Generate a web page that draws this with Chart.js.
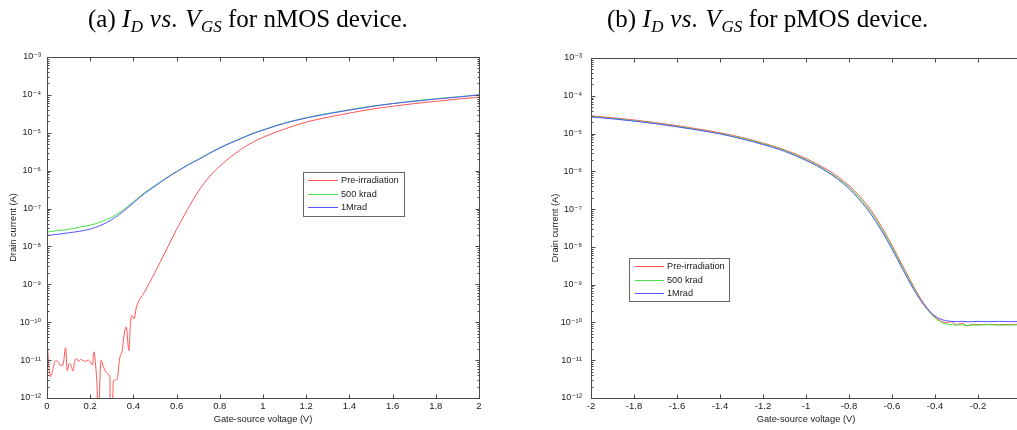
<!DOCTYPE html>
<html>
<head>
<meta charset="utf-8">
<script src="https://cdn.jsdelivr.net/npm/chart.js@4.4.1/dist/chart.umd.min.js"></script>
<style>
  html, body { margin: 0; padding: 0; background: #fff; }
  body { position: relative; width: 1017px; height: 430px; overflow: hidden; }
  .ttl { position: absolute; top: 6px; font-family: 'Liberation Serif', 'Times New Roman', serif;
         font-size: 25px; line-height: 25px; white-space: nowrap; color: #000; z-index: 2; }
  .ttl i { letter-spacing: 0.5px; }
  .ttl sub { font-size: 0.68em; vertical-align: -0.3em; letter-spacing: 0; }
  .pane { position: absolute; top: 0; }
  canvas { display: block; }
</style>
</head>
<body>
<div class="ttl" style="left:88px">(a) <i>I<sub>D</sub> vs. V<sub>GS</sub></i> for nMOS device.</div>
<div class="ttl" style="left:607px">(b) <i>I<sub>D</sub> vs. V<sub>GS</sub></i> for pMOS device.</div>
<div class="pane" style="left:0"><canvas id="nmos" width="500" height="430"></canvas></div>
<div class="pane" style="left:540px"><canvas id="pmos" width="500" height="430"></canvas></div>
<script>
// ---- series labels and axis ticks ----
const seriesLabels = ['Pre-irradiation', '500 krad', '1Mrad'];
const seriesColors = ['rgb(255,85,85)', 'rgb(70,225,70)', 'rgb(85,85,255)'];
const yDecades = [1e-12, 1e-11, 1e-10, 1e-9, 1e-8, 1e-7, 1e-6, 1e-5, 1e-4, 1e-3];
const yDecadeLabels = ['10\u207B\u00B9\u00B2', '10\u207B\u00B9\u00B9', '10\u207B\u00B9\u2070', '10\u207B\u2079',
  '10\u207B\u2078', '10\u207B\u2077', '10\u207B\u2076', '10\u207B\u2075', '10\u207B\u2074', '10\u207B\u00B3'];
const yMinorSteps = [2, 3, 4, 5, 6, 7, 8, 9];
const nmosXTicks = [0, 0.2, 0.4, 0.6, 0.8, 1, 1.2, 1.4, 1.6, 1.8, 2];
const pmosXTicks = [-2, -1.8, -1.6, -1.4, -1.2, -1, -0.8, -0.6, -0.4, -0.2, 0];

// ---- nMOS: drain current (A) vs gate-source voltage (V) ----
const nmosPreVgs = [0, 0.008, 0.017, 0.028, 0.039, 0.051, 0.062, 0.074, 0.086, 0.094,
  0.102, 0.111, 0.120, 0.128, 0.136, 0.147, 0.156, 0.167, 0.179, 0.190,
  0.200, 0.210, 0.218, 0.225, 0.231, 0.237, 0.250, 0.262, 0.272, 0.282,
  0.291, 0.294, 0.302, 0.307, 0.318, 0.327, 0.336, 0.348, 0.359, 0.367,
  0.379, 0.387, 0.395, 0.403, 0.414, 0.45, 0.5, 0.55, 0.6, 0.65,
  0.7, 0.75, 0.8, 0.85, 0.9, 0.95, 1.0, 1.1, 1.2, 1.3,
  1.4, 1.5, 1.6, 1.7, 1.8, 1.9, 2.0];
const nmosPre = [3.72e-11, 8.13e-12, 3.63e-12, 6.03e-12, 9.55e-12, 9.12e-12, 7.24e-12, 7.41e-12, 2.14e-11, 5.25e-12,
  8.13e-12, 7.41e-12, 5.13e-12, 9.12e-12, 1.10e-11, 9.33e-12, 1.05e-11, 9.55e-12, 9.33e-12, 1.00e-11,
  9.12e-12, 7.41e-12, 1.66e-11, 7.41e-12, 2.40e-12, 3.0e-13, 9.8e-12, 6.61e-12, 4.90e-12, 4.27e-12,
  3.63e-12, 3.0e-13, 3.0e-13, 2.82e-12, 2.95e-12, 3.63e-12, 1.07e-11, 1.78e-11, 5.50e-11, 7.41e-11,
  1.78e-11, 1.10e-10, 1.51e-10, 1.23e-10, 2.51e-10, 6.03e-10, 2.09e-9, 7.59e-9, 2.82e-8, 9.33e-8,
  2.82e-7, 6.76e-7, 1.32e-6, 2.29e-6, 3.72e-6, 5.50e-6, 7.59e-6, 1.26e-5, 1.91e-5, 2.57e-5,
  3.31e-5, 4.17e-5, 5.01e-5, 5.89e-5, 6.76e-5, 7.76e-5, 8.71e-5];

const nmosVgs = [0, 0.05, 0.1, 0.15, 0.2, 0.25, 0.3, 0.35, 0.4, 0.45,
  0.5, 0.55, 0.6, 0.65, 0.7, 0.75, 0.8, 0.85, 0.9, 0.95,
  1.0, 1.1, 1.2, 1.3, 1.4, 1.5, 1.6, 1.7, 1.8, 1.9, 2.0];
const nmos500k = [2.40e-8, 2.63e-8, 2.82e-8, 3.24e-8, 3.63e-8, 4.47e-8, 5.89e-8, 8.91e-8, 1.51e-7, 2.57e-7,
  4.07e-7, 6.31e-7, 9.55e-7, 1.41e-6, 2.00e-6, 2.88e-6, 4.07e-6, 5.50e-6, 7.24e-6, 9.55e-6,
  1.20e-5, 1.82e-5, 2.51e-5, 3.24e-5, 4.07e-5, 5.01e-5, 5.89e-5, 6.92e-5, 7.94e-5, 8.91e-5, 1.00e-4];
const nmos1M = [1.95e-8, 2.09e-8, 2.29e-8, 2.51e-8, 2.88e-8, 3.63e-8, 5.13e-8, 8.13e-8, 1.41e-7, 2.45e-7,
  3.89e-7, 6.17e-7, 9.33e-7, 1.38e-6, 1.95e-6, 2.82e-6, 3.98e-6, 5.37e-6, 7.08e-6, 9.33e-6,
  1.17e-5, 1.78e-5, 2.45e-5, 3.16e-5, 3.98e-5, 4.90e-5, 5.89e-5, 6.76e-5, 7.76e-5, 8.71e-5, 1.00e-4];

// ---- pMOS: drain current magnitude (A) vs gate-source voltage (V) ----
const pmosVgs = [-2, -1.9, -1.8, -1.7, -1.6, -1.5, -1.4, -1.3, -1.2, -1.1, -1.0,
  -0.95, -0.9, -0.85, -0.8, -0.75, -0.7, -0.65, -0.6, -0.55, -0.5,
  -0.475, -0.45, -0.425, -0.4, -0.375, -0.35, -0.325, -0.3,
  -0.275, -0.25, -0.225, -0.2, -0.15, -0.1, -0.05, 0];
const pmosPre = [2.95e-5, 2.63e-5, 2.29e-5, 1.95e-5, 1.62e-5, 1.32e-5, 1.05e-5, 7.94e-6, 5.62e-6, 3.72e-6, 2.19e-6,
  1.58e-6, 1.10e-6, 7.08e-7, 4.17e-7, 2.19e-7, 9.77e-8, 3.55e-8, 1.10e-8, 3.16e-9, 9.12e-10,
  5.13e-10, 3.09e-10, 2.00e-10, 1.41e-10, 1.12e-10, 9.77e-11, 1.05e-10, 8.71e-11,
  9.55e-11, 8.13e-11, 8.91e-11, 8.71e-11, 8.91e-11, 8.71e-11, 8.91e-11, 8.91e-11];
const pmos500k = [2.82e-5, 2.51e-5, 2.19e-5, 1.86e-5, 1.55e-5, 1.26e-5, 1.00e-5, 7.59e-6, 5.37e-6, 3.55e-6, 2.04e-6,
  1.48e-6, 1.00e-6, 6.46e-7, 3.80e-7, 1.95e-7, 8.51e-8, 3.09e-8, 9.77e-9, 2.82e-9, 8.32e-10,
  4.68e-10, 2.82e-10, 1.86e-10, 1.32e-10, 1.05e-10, 9.12e-11, 8.71e-11, 8.51e-11,
  8.71e-11, 8.32e-11, 8.51e-11, 8.51e-11, 8.71e-11, 8.51e-11, 8.51e-11, 8.71e-11];
const pmos1M = [2.75e-5, 2.45e-5, 2.14e-5, 1.82e-5, 1.51e-5, 1.23e-5, 9.77e-6, 7.24e-6, 5.13e-6, 3.39e-6, 1.95e-6,
  1.41e-6, 9.55e-7, 6.03e-7, 3.47e-7, 1.74e-7, 7.59e-8, 2.75e-8, 8.71e-9, 2.51e-9, 7.59e-10,
  4.47e-10, 2.82e-10, 1.95e-10, 1.48e-10, 1.23e-10, 1.12e-10, 1.07e-10, 1.05e-10,
  1.07e-10, 1.05e-10, 1.05e-10, 1.07e-10, 1.05e-10, 1.07e-10, 1.05e-10, 1.07e-10];

// ---- helpers ----
const SANS = "'Liberation Sans', Arial, 'DejaVu Sans', sans-serif";
const pairs = (xs, ys) => xs.map((x, i) => ({ x, y: ys[i] }));

function series(xs, ysList) {
  return ysList.map((ys, i) => ({
    label: seriesLabels[i],
    data: pairs(xs[i], ys),
    borderColor: seriesColors[i],
    borderWidth: 1,
    pointRadius: 0,
    fill: false,
    cubicInterpolationMode: 'monotone',
    order: 3 - i
  }));
}

function logAxisTicks(scale) {
  const out = [];
  yDecades.forEach((d, k) => {
    out.push({ value: d, lbl: yDecadeLabels[k], pw: true });
    if (k < yDecades.length - 1) yMinorSteps.forEach(m => out.push({ value: m * d }));
  });
  scale.ticks = out;
}

// Matlab-style boxed axes with inward tick marks
const boxAxes = {
  id: 'boxAxes',
  afterDatasetsDraw(chart) {
    const { ctx, chartArea: a, scales: { x, y } } = chart;
    const L = Math.round(a.left) + 0.5, R = Math.round(a.right) + 0.5;
    const T = Math.round(a.top) + 0.5, B = Math.round(a.bottom) + 0.5;
    ctx.save();
    ctx.strokeStyle = '#4a4a4a';
    ctx.lineWidth = 1;
    ctx.beginPath();
    x.ticks.forEach(t => {
      const px = Math.round(x.getPixelForValue(t.value)) + 0.5;
      ctx.moveTo(px, B); ctx.lineTo(px, B - 4);
      ctx.moveTo(px, T); ctx.lineTo(px, T + 4);
    });
    y.ticks.forEach(t => {
      const len = t.pw ? 4 : 2;
      const py = Math.round(y.getPixelForValue(t.value)) + 0.5;
      ctx.moveTo(L, py); ctx.lineTo(L + len, py);
      ctx.moveTo(R, py); ctx.lineTo(R - len, py);
    });
    ctx.stroke();
    ctx.strokeRect(L, T, R - L, B - T);
    ctx.restore();
  }
};

// Legend box placed inside the plot area
const boxLegend = {
  id: 'boxLegend',
  afterDatasetsDraw(chart, args, o) {
    const ctx = chart.ctx;
    ctx.save();
    ctx.fillStyle = '#fff';
    ctx.fillRect(o.left, o.top, o.width, o.height);
    ctx.strokeStyle = '#666';
    ctx.lineWidth = 1;
    ctx.strokeRect(o.left + 0.5, o.top + 0.5, o.width, o.height);
    ctx.font = '9.2px ' + SANS;
    ctx.textBaseline = 'middle';
    chart.data.datasets.forEach((ds, i) => {
      const yy = Math.round(o.top + o.firstRow + i * o.rowGap) + 0.5;
      ctx.strokeStyle = ds.borderColor;
      ctx.beginPath();
      ctx.moveTo(o.left + o.lineStart, yy);
      ctx.lineTo(o.left + o.lineEnd, yy);
      ctx.stroke();
      ctx.fillStyle = '#1a1a1a';
      ctx.fillText(ds.label, o.left + o.textStart, yy);
    });
    ctx.restore();
  }
};

function makeChart(id, cfg) {
  return new Chart(document.getElementById(id), {
    type: 'line',
    data: { datasets: cfg.datasets },
    plugins: [boxAxes, boxLegend],
    options: {
      responsive: false,
      animation: false,
      events: [],
      layout: { padding: { left: 0, right: cfg.padRight, top: cfg.padTop, bottom: 0 } },
      plugins: {
        legend: { display: false },
        tooltip: { enabled: false },
        boxLegend: cfg.legend
      },
      scales: {
        x: {
          type: 'linear',
          min: cfg.xMin, max: cfg.xMax,
          afterBuildTicks: s => { s.ticks = cfg.xTicks.map(v => ({ value: v })); },
          afterFit: s => { s.height = 32; },
          grid: { display: false, drawTicks: false },
          border: { display: false },
          ticks: {
            autoSkip: false, maxRotation: 0, padding: 3,
            color: '#1a1a1a', font: { family: SANS, size: 9.5 },
            callback: v => String(+Number(v).toFixed(1))
          },
          title: {
            display: true, text: 'Gate-source voltage (V)', color: '#1a1a1a',
            font: { family: SANS, size: 9.3 }, padding: { top: 0, bottom: 5 }
          }
        },
        y: {
          type: 'logarithmic',
          min: 1e-12, max: 1e-3,
          afterBuildTicks: logAxisTicks,
          afterFit: s => { s.width = cfg.yWidth; },
          grid: { display: false, drawTicks: false },
          border: { display: false },
          ticks: {
            autoSkip: false, padding: cfg.yTickPad,
            color: '#1a1a1a', font: { family: SANS, size: 9 },
            callback: (v, i, ts) => ts[i].lbl || ''
          },
          title: {
            display: true, text: 'Drain current (A)', color: '#1a1a1a',
            font: { family: SANS, size: 9.3 }, padding: { top: cfg.yTitlePad, bottom: 0 }
          }
        }
      }
    }
  });
}

makeChart('nmos', {
  datasets: series([nmosPreVgs, nmosVgs, nmosVgs], [nmosPre, nmos500k, nmos1M]),
  xMin: 0, xMax: 2, xTicks: nmosXTicks,
  padRight: 21, padTop: 57, yWidth: 47, yTickPad: 6, yTitlePad: 8,
  legend: { left: 303, top: 172, width: 101, height: 44, lineStart: 5, lineEnd: 35, textStart: 38, firstRow: 8, rowGap: 13.5 }
});

makeChart('pmos', {
  datasets: series([pmosVgs, pmosVgs, pmosVgs], [pmosPre, pmos500k, pmos1M]),
  xMin: -2, xMax: 0, xTicks: pmosXTicks,
  padRight: 19, padTop: 58, yWidth: 51, yTickPad: 9, yTitlePad: 10,
  legend: { left: 89, top: 258, width: 100, height: 43, lineStart: 6, lineEnd: 35, textStart: 38, firstRow: 8, rowGap: 13.7 }
});
</script>
</body>
</html>
